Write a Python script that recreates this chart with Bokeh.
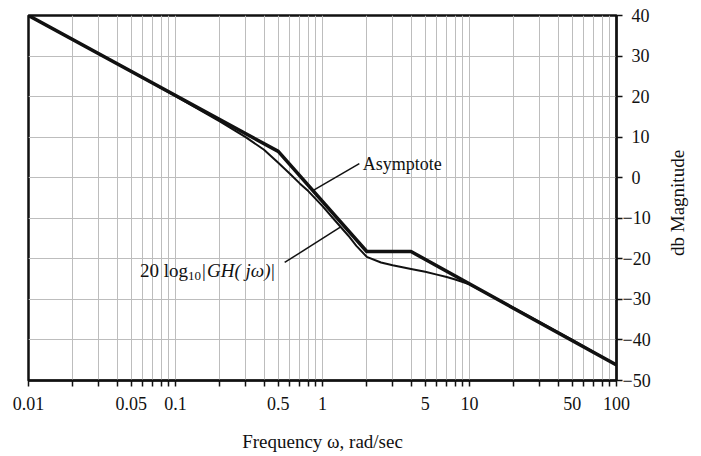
import numpy as np
from math import pi
from bokeh.plotting import figure
from bokeh.models import Range1d, FixedTicker, Label, CustomJSTickFormatter, LinearAxis
from bokeh.embed import file_html
from bokeh.resources import INLINE

# Straight-line (asymptotic) approximation of the open-loop magnitude
asym_freq = [0.01, 0.5, 2.0, 4.0, 100.0]
asym_db = [40.0, 6.5, -18.2, -18.2, -46.2]

# Exact magnitude 20 log10 |GH(jw)|
mag_freq = [0.01, 0.05, 0.1, 0.2, 0.3, 0.4, 0.5, 0.6, 0.7, 0.8, 1.0, 1.2, 1.5,
            1.7, 2.0, 2.5, 3.0, 3.5, 4.0, 5.0, 6.0, 7.0, 8.0, 10.0, 20.0, 50.0, 100.0]
mag_db = [40.0, 26.2, 20.1, 13.9, 10.0, 6.9, 3.7, 1.0, -1.4, -3.3, -7.0, -10.3, -14.3,
          -16.8, -19.5, -20.9, -21.6, -22.1, -22.5, -23.2, -23.9, -24.5, -25.1, -26.3,
          -32.1, -40.0, -46.2]

# Axis ticks
x_major = [0.01, 0.05, 0.1, 0.5, 1, 5, 10, 50, 100]
x_minor = [0.02, 0.03, 0.04, 0.06, 0.07, 0.08, 0.09,
           0.2, 0.3, 0.4, 0.6, 0.7, 0.8, 0.9,
           2, 3, 4, 6, 7, 8, 9,
           20, 30, 40, 60, 70, 80, 90]
y_ticks = [-50, -40, -30, -20, -10, 0, 10, 20, 30, 40]

SERIF = "Liberation Serif"
INK = "#111111"
GRID = "#bdbdbd"

p = figure(width=701, height=456, x_axis_type="log",
           x_range=Range1d(0.01, 100), y_range=Range1d(-50, 40),
           y_axis_location="right", output_backend="svg", toolbar_location=None,
           min_border_left=28, min_border_top=15, min_border_right=83,
           min_border_bottom=76, background_fill_color="white",
           border_fill_color="white")

p.outline_line_color = INK
p.outline_line_width = 2.5

xt = FixedTicker(ticks=x_major, minor_ticks=x_minor)
yt = FixedTicker(ticks=y_ticks, minor_ticks=[])
p.xaxis.ticker = xt
p.yaxis.ticker = yt
p.xgrid.ticker = xt
p.ygrid.ticker = yt

p.xgrid.grid_line_color = GRID
p.xgrid.minor_grid_line_color = GRID
p.ygrid.grid_line_color = GRID
p.xgrid.grid_line_width = 1
p.ygrid.grid_line_width = 1

p.xaxis.formatter = CustomJSTickFormatter(code="return String(tick);")
p.yaxis.formatter = CustomJSTickFormatter(
    code="return tick < 0 ? '\u2212' + Math.abs(tick) : '\u2007' + tick;")

for ax in (p.xaxis[0], p.yaxis[0]):
    ax.axis_line_color = INK
    ax.axis_line_width = 2
    ax.major_tick_line_color = INK
    ax.major_tick_line_width = 1.5
    ax.major_tick_in = 0
    ax.major_tick_out = 6
    ax.major_label_text_font = SERIF
    ax.major_label_text_font_size = "18px"
    ax.major_label_text_color = INK

p.xaxis.minor_tick_line_color = INK
p.xaxis.minor_tick_line_width = 1.5
p.xaxis.minor_tick_in = 0
p.xaxis.minor_tick_out = 6
p.xaxis.major_label_standoff = 10
p.xaxis.axis_label = "Frequency \u03c9, rad/sec"
p.xaxis.axis_label_text_font = SERIF
p.xaxis.axis_label_text_font_size = "19px"
p.xaxis.axis_label_text_font_style = "normal"
p.xaxis.axis_label_text_color = INK
p.xaxis.axis_label_standoff = 18

p.yaxis.minor_tick_line_color = None
p.yaxis.major_label_standoff = 0

# Vertical axis title, reading bottom to top: the single label of a bare axis,
# its tick placed so that the text is centred beside the frame
title_tick = -19.3
title_axis = LinearAxis(ticker=FixedTicker(ticks=[title_tick], minor_ticks=[]),
                        formatter=CustomJSTickFormatter(code="return 'db Magnitude';"),
                        axis_line_color=None, major_tick_line_color=None,
                        minor_tick_line_color=None, major_tick_in=0, major_tick_out=0,
                        major_label_orientation=pi / 2, major_label_standoff=24,
                        major_label_text_font=SERIF, major_label_text_font_size="19px",
                        major_label_text_color=INK)
p.add_layout(title_axis, "right")

# Curves
p.line(mag_freq, mag_db, line_color=INK, line_width=2, line_join="round")
p.line(asym_freq, asym_db, line_color=INK, line_width=3.5, line_join="round")

# Leader lines from the captions to the curves
def on_curve(freq, db, w):
    return float(np.interp(np.log10(w), np.log10(freq), db))

asym_tip = 0.86
mag_tip = 1.33
p.segment(x0=[1.78, 0.553], y0=[3.5, -20.9],
          x1=[asym_tip, mag_tip],
          y1=[on_curve(asym_freq, asym_db, asym_tip), on_curve(mag_freq, mag_db, mag_tip)],
          line_color=INK, line_width=1.5)

p.add_layout(Label(x=1.876, y=3.3, text="Asymptote", text_font=SERIF,
                   text_font_size="18px", text_color=INK, text_baseline="alphabetic"))

# 20 log10 |GH(jw)| caption built from pieces
cap_x, cap_y = 0.0574, -22.9
pieces = [
    ("20 log", 0, 0, "19px", "normal"),
    ("10", 48, -5, "13px", "normal"),
    ("|", 62, 0, "19px", "normal"),
    ("GH( j\u03c9)", 67, 0, "19px", "italic"),
    ("|", 131, 0, "19px", "normal"),
]
for txt, dx, dy, size, style in pieces:
    p.add_layout(Label(x=cap_x, y=cap_y, x_offset=dx, y_offset=dy, text=txt,
                       text_font=SERIF, text_font_size=size, text_font_style=style,
                       text_color=INK, text_baseline="alphabetic"))

open("out.html", "w").write(file_html(p, INLINE))
